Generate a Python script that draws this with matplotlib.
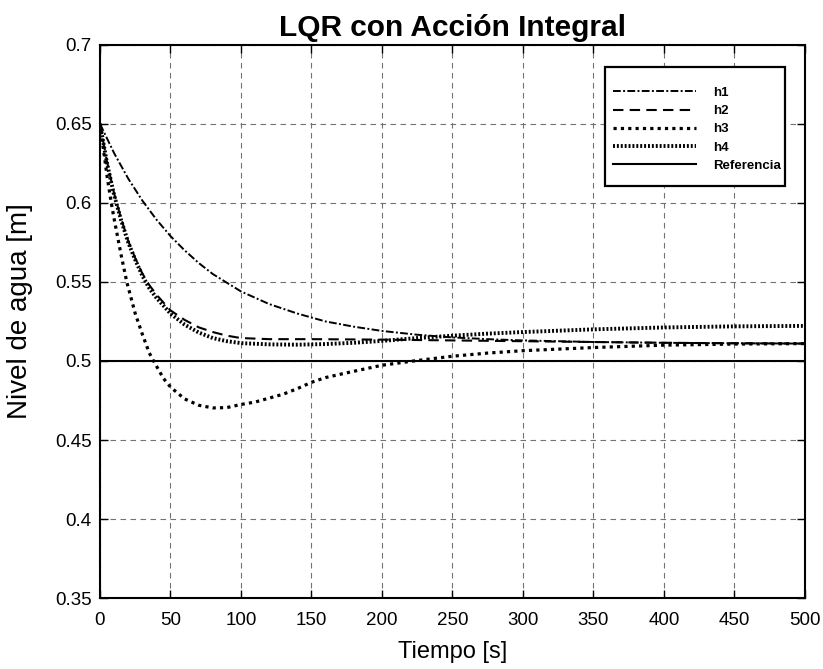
import matplotlib
matplotlib.use("Agg")
import matplotlib.pyplot as plt
from matplotlib.patches import Rectangle

plt.rcParams['font.family'] = ['Liberation Sans', 'DejaVu Sans']

# time samples (s) and values (m)
t1 = [0, 10, 20, 30, 40, 50, 60, 70, 80, 90, 100, 120, 140, 160, 180, 200,
      225, 250, 275, 300, 350, 400, 450, 500]
h1 = [0.650, 0.6315, 0.6154, 0.6015, 0.5895, 0.579, 0.570, 0.562, 0.555, 0.5495,
      0.544, 0.536, 0.530, 0.525, 0.5217, 0.519, 0.5166, 0.5149, 0.5138, 0.5130,
      0.5120, 0.5115, 0.5112, 0.5110]

t2 = [0, 5, 10, 15, 20, 25, 30, 35, 40, 50, 60, 70, 80, 90, 100, 120, 150,
      200, 250, 300, 350, 400, 450, 500]
h2 = [0.650, 0.626, 0.606, 0.590, 0.576, 0.565, 0.5554, 0.548, 0.542, 0.532,
      0.526, 0.5213, 0.5183, 0.5160, 0.5145, 0.5138, 0.5138, 0.5135, 0.5130,
      0.5125, 0.5120, 0.5115, 0.5112, 0.5110]

t3 = [0, 5, 8, 10, 15, 19, 25, 30, 35, 38, 45, 50, 60, 70, 80, 90, 100, 110,
      120, 130, 140, 150, 160, 175, 200, 225, 250, 275, 300, 350, 400, 450, 500]
h3 = [0.650, 0.617, 0.600, 0.590, 0.567, 0.550, 0.530, 0.517, 0.505, 0.500,
      0.489, 0.4835, 0.476, 0.472, 0.4703, 0.4705, 0.4725, 0.4740, 0.4765,
      0.4790, 0.4825, 0.4865, 0.4895, 0.4925, 0.4973, 0.5003, 0.5030, 0.5050,
      0.5065, 0.5085, 0.5100, 0.5107, 0.5110]

t4 = [0, 5, 10, 15, 20, 25, 30, 35, 40, 50, 60, 70, 80, 90, 100, 120, 140,
      160, 180, 200, 225, 250, 275, 300, 350, 400, 450, 500]
h4 = [0.650, 0.625, 0.605, 0.589, 0.575, 0.564, 0.554, 0.546, 0.540, 0.530,
      0.523, 0.518, 0.5145, 0.5125, 0.5113, 0.5105, 0.5103, 0.5107, 0.5115,
      0.5127, 0.5145, 0.5160, 0.5173, 0.5183, 0.5200, 0.5212, 0.5219, 0.5222]

ref_t = [0, 500]
ref_v = [0.5, 0.5]

xticks = [0, 50, 100, 150, 200, 250, 300, 350, 400, 450, 500]
yticks = [0.35, 0.4, 0.45, 0.5, 0.55, 0.6, 0.65, 0.7]
ytick_labels = ['0.35', '0.4', '0.45', '0.5', '0.55', '0.6', '0.65', '0.7']

fig = plt.figure(figsize=(8.23, 6.69), dpi=100)
ax = fig.add_axes([0.1215, 0.106, 0.8565, 0.827])

ax.plot(t1, h1, color='black', lw=1.4, linestyle=(0, (4, 1.2, 1, 1.2)), label='h1')
ax.plot(t2, h2, color='black', lw=1.5, linestyle=(0, (5, 3)), label='h2')
ax.plot(t3, h3, color='black', lw=2.3, linestyle=(0, (1, 1.3)), label='h3')
ax.plot(t4, h4, color='black', lw=2.8, linestyle=(0, (0.5, 0.5)), label='h4')
ax.plot(ref_t, ref_v, color='black', lw=1.5, linestyle='-', label='Referencia')

ax.set_xlim(0, 500)
ax.set_ylim(0.35, 0.7)
ax.set_xticks(xticks)
ax.set_yticks(yticks)
ax.set_yticklabels(ytick_labels)
ax.tick_params(direction='in', top=True, right=True, labelsize=13.5, length=6, width=1)
ax.tick_params(axis='x', pad=10)
ax.tick_params(axis='y', pad=6)
ax.grid(True, color='0.45', linestyle=(0, (5, 4)), linewidth=0.8)
for s in ax.spines.values():
    s.set_linewidth(1.5)

ax.set_xlabel('Tiempo [s]', fontsize=17)
ax.xaxis.set_label_coords(0.5, -0.077)
ax.set_ylabel('Nivel de agua [m]', fontsize=20)
ax.yaxis.set_label_coords(-0.095, 0.519)
ax.set_title('LQR con Acción Integral', fontsize=21.5, fontweight='bold', pad=6)

# legend frame (rectangle) and entries
ax.add_patch(Rectangle((0.7163, 0.745), 0.2553, 0.2152, transform=ax.transAxes,
                       facecolor='white', edgecolor='black', linewidth=1.6, zorder=4))
leg = ax.legend(loc='upper left', bbox_to_anchor=(0.7277, 0.924),
                prop={'weight': 'bold', 'size': 9.5},
                handlelength=6.3, labelspacing=0.45, frameon=False,
                borderpad=0, borderaxespad=0, handletextpad=1.3)
leg.set_zorder(5)

fig.savefig('out.png', dpi=100)
